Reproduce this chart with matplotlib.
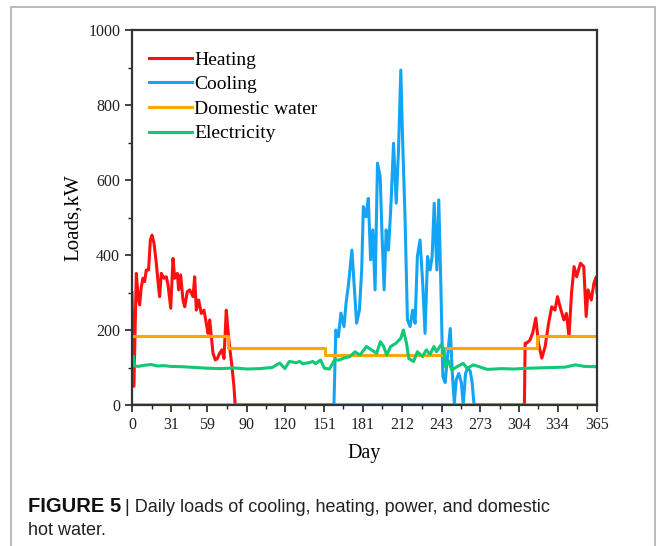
import numpy as np
import matplotlib
matplotlib.use("Agg")
import matplotlib.pyplot as plt
from matplotlib.patches import Rectangle

# Daily loads (kW) read at irregular days over one year
heat_days = [0, 1.5, 3.4, 4.7, 6, 7.3, 8.6, 9.9, 11.2, 13, 14.4, 15.7, 17.3, 19.1, 20.4,
             21.7, 23, 25.1, 26.9, 28.3, 30.4, 32.2, 33.5, 35.6, 36.6, 38.2, 40, 41.4,
             43.4, 45.3, 47.9, 49.2, 50.5, 52.3, 54.4, 56.5, 58.3, 59.7, 61, 62.3, 63.6,
             65.4, 67, 68.8, 70.6, 72.2, 74, 75.3, 76.6, 78.5, 80, 81,
             308, 308.6, 309.8, 312.4, 314.5, 317, 319, 321.7, 324.3, 327, 329.5, 332,
             334, 336, 339, 341, 343, 345, 347, 349, 352, 354.6, 356.5, 358, 360.5,
             362.6, 364.5, 365]
heat_vals = [300, 50, 351, 291, 267, 315, 338, 329, 360, 360, 440, 453, 431, 378, 329,
             289, 351, 338, 342, 320, 258, 391, 338, 351, 307, 347, 280, 262,
             302, 307, 289, 342, 253, 280, 244, 253, 218, 191, 227, 182, 138,
             120, 124, 138, 147, 124, 253, 200, 156, 102, 50, 0,
             0, 165, 165, 173, 192, 232, 165, 125, 156, 218, 262, 253,
             289, 262, 227, 244, 182, 298, 369, 342, 378, 369, 236, 307, 280,
             325, 342, 300]

cool_days = [0, 158.5, 160, 162, 164, 166.4, 168, 170, 172.6, 174.3, 176.3, 178.5,
             180.3, 181.6, 183.7, 185.5, 187.3, 189, 190.8, 192.7, 194.8, 196.3, 197.9,
             199.5, 201.3, 203.2, 205.3, 207.4, 209.2, 211, 212.5, 214.3, 216.2, 218.3,
             220.3, 222.2, 224, 226.1, 228.2, 230, 232, 234, 235.6, 237.2, 239.3, 240.8,
             242.4, 244, 245.8, 247.7, 249.8, 251.5, 253, 254.5, 256.5, 258.5, 260,
             261.8, 263.5, 265.5, 267, 268.5, 270, 365]
cool_vals = [0, 0, 200, 182, 245, 209, 271, 324, 413, 324, 218, 253,
             360, 529, 502, 551, 387, 467, 307, 645, 609, 449, 307,
             467, 413, 529, 698, 538, 680, 893, 698, 502, 227, 209,
             253, 218, 396, 440, 324, 191, 396, 360, 396, 538, 360, 547,
             324, 76, 60, 130, 204, 80, 5, 67, 84, 60, 0,
             84, 100, 90, 60, 0, 0, 0]

water_days = [0, 75, 151.5, 245, 318, 365]
water_vals = [184, 151, 133, 152, 184, 184]

elec_days = [0, 1, 2, 5, 10, 15, 20, 25, 30, 40, 50, 60, 70, 80, 90, 100, 110,
             116, 120, 123.5, 129, 131.6, 134, 139, 142, 144, 148, 151, 155, 159,
             163, 166, 171, 175, 179, 184, 188, 192, 195, 197.5, 200, 203, 207, 211,
             213, 215.5, 217.3, 221, 224, 228, 231, 234, 237, 239, 242.5, 244.5,
             246, 248.5, 251, 255, 260, 263, 268, 279, 290, 300, 310, 320, 330,
             340, 348, 355, 365]
elec_vals = [105, 130, 104, 103, 106, 108, 104, 105, 103, 102, 100, 98, 97, 99, 96, 97, 100,
             112, 97, 116, 113, 116, 110, 113, 116, 110, 120, 98, 96, 120,
             120, 125, 129, 142, 133, 156, 147, 138, 169, 156, 133, 156, 164, 178,
             200, 164, 124, 116, 142, 129, 147, 135, 156, 142, 160, 150,
             102, 118, 93, 102, 111, 98, 107, 95, 97, 96, 98, 99, 100,
             101, 107, 103, 102]

xtick_days = [0, 31, 59, 90, 120, 151, 181, 212, 243, 273, 304, 334, 365]

plt.rcParams['font.family'] = ['Liberation Serif', 'DejaVu Serif']

fig = plt.figure(figsize=(6.64, 5.46), dpi=100)
ax = fig.add_axes([132 / 664, 1 - 405 / 546, 465 / 664, 375 / 546])

lw = 2.2
ax.plot(heat_days, heat_vals, color='#ff1010', lw=lw, label='Heating')
ax.plot(cool_days, cool_vals, color='#13a4f5', lw=lw, label='Cooling')
ax.plot(water_days, water_vals, color='#ffa700', lw=lw, drawstyle='steps-post',
        label='Domestic water')
ax.plot(elec_days, elec_vals, color='#10c878', lw=lw, label='Electricity')

ax.set_xlim(0, 365)
ax.set_ylim(0, 1000)
ax.set_xticks(xtick_days)
ax.set_xticks([(a + b) / 2 for a, b in zip(xtick_days[:-1], xtick_days[1:])], minor=True)
ax.set_yticks(np.arange(0, 1001, 200))
ax.set_yticks(np.arange(100, 1000, 200), minor=True)
ax.tick_params(which='major', direction='out', length=5, width=1.2, labelsize=11.5,
               colors='#222222')
ax.tick_params(which='minor', direction='out', length=3, width=1.0, colors='#222222')
for s in ax.spines.values():
    s.set_linewidth(1.6)
    s.set_color('#333333')

ax.set_xlabel('Day', fontsize=14.5, labelpad=8)
ax.set_ylabel('Loads,kW', fontsize=15, labelpad=4)

leg = ax.legend(loc='upper left', frameon=False, fontsize=14, handlelength=2.2,
                handletextpad=0.12, labelspacing=0.36, borderaxespad=0.0,
                bbox_to_anchor=(0.02, 0.965))

# outer frame of the figure panel
fig.patches.append(Rectangle((11 / 664, -0.05), 644 / 664, 1.05 - 7 / 546,
                             transform=fig.transFigure, fill=False,
                             edgecolor='#b4b4b4', lw=1.3))

cap_font = ['Liberation Sans', 'DejaVu Sans']
t1 = fig.text(28 / 664, 1 - 512 / 546, 'FIGURE 5', family=cap_font, fontweight='bold',
              fontsize=14.5, color='#111111')
fig.canvas.draw()
bb = t1.get_window_extent()
fig.text(bb.x1 / 664 + 4 / 664, 1 - 512 / 546,
         '| Daily loads of cooling, heating, power, and domestic',
         family=cap_font, fontsize=13.0, color='#222222')
fig.text(28 / 664, 1 - 535 / 546, 'hot water.', family=cap_font, fontsize=13.0,
         color='#222222')

fig.savefig('out.png', dpi=100)
